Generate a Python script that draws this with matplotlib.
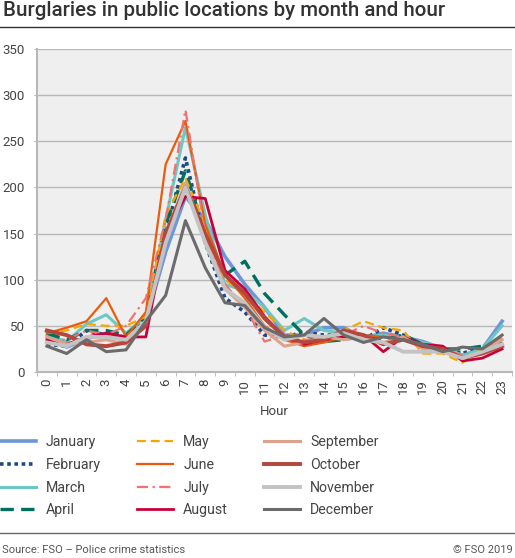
import matplotlib
matplotlib.use("Agg")
import matplotlib.pyplot as plt
import numpy as np

plt.rcParams['font.family'] = ['Roboto', 'DejaVu Sans']

hours = list(range(24))
months = ["January", "February", "March", "April", "May", "June",
          "July", "August", "September", "October", "November", "December"]

january = [44, 27, 36, 42, 33, 55, 130, 190, 165, 125, 95, 70, 40, 40, 48, 48, 37, 42, 38, 33, 25, 18, 25, 55]
february = [30, 28, 45, 40, 38, 60, 150, 232, 140, 80, 65, 40, 38, 43, 40, 40, 35, 48, 40, 30, 25, 20, 28, 32]
march = [40, 33, 52, 62, 42, 60, 165, 265, 170, 95, 88, 70, 45, 58, 45, 42, 38, 40, 38, 32, 27, 18, 25, 50]
april = [42, 35, 45, 45, 40, 60, 160, 218, 150, 105, 120, 85, 62, 40, 33, 35, 40, 35, 40, 30, 25, 25, 28, 28]
may = [42, 45, 52, 50, 50, 60, 170, 210, 160, 100, 85, 65, 45, 35, 32, 45, 55, 48, 45, 20, 20, 10, 25, 30]
june = [42, 48, 55, 80, 38, 65, 225, 272, 160, 105, 80, 50, 35, 28, 32, 38, 40, 38, 35, 30, 25, 15, 20, 30]
july = [35, 35, 45, 40, 50, 80, 165, 284, 150, 95, 70, 33, 40, 35, 35, 40, 50, 42, 38, 28, 25, 18, 22, 38]
august = [35, 30, 38, 42, 38, 38, 150, 190, 188, 110, 90, 60, 38, 30, 35, 38, 40, 22, 38, 30, 28, 12, 15, 25]
september = [38, 30, 32, 35, 30, 55, 150, 205, 145, 90, 70, 45, 28, 32, 38, 35, 38, 32, 38, 25, 22, 15, 22, 35]
october = [45, 40, 30, 28, 32, 50, 150, 200, 150, 105, 85, 58, 38, 32, 35, 45, 40, 30, 35, 28, 25, 15, 20, 28]
november = [32, 28, 38, 38, 35, 55, 140, 200, 140, 90, 75, 48, 35, 40, 38, 42, 35, 32, 22, 22, 22, 15, 22, 30]
december = [28, 20, 35, 22, 24, 55, 83, 164, 113, 75, 72, 48, 38, 40, 58, 40, 32, 38, 35, 30, 22, 27, 25, 40]

series = [january, february, march, april, may, june,
          july, august, september, october, november, december]
colors = ["#6f96d6", "#1d4a87", "#6cc8c4", "#00705e", "#f7a600", "#ea5b0c",
          "#f27171", "#c80039", "#dca28c", "#b5463c", "#c3c3c3", "#6b6b6b"]
styles = ["-", (0, (1, 1)), "-", (0, (4, 2.2)), (0, (4, 2.2)), "-",
          (0, (5, 2, 1, 2)), "-", "-", "-", "-", "-"]
widths = [2.6, 2.6, 2.2, 2.4, 1.6, 1.6, 1.6, 2.0, 2.2, 2.8, 2.8, 2.2]

fig = plt.figure(figsize=(5.15, 5.58), dpi=100)
ax = fig.add_axes([37 / 515, 1 - 372 / 558, 475 / 515, 323 / 558])
ax.set_facecolor("#efefef")

for name, vals, c, ls, lw in zip(months, series, colors, styles, widths):
    ax.plot(hours, vals, color=c, linestyle=ls, linewidth=lw, label=name)

ax.set_xlim(-0.5, 23.5)
ax.set_ylim(0, 350)
ax.set_yticks(range(0, 351, 50))
ax.grid(axis="y", color="#b8b8b8", linewidth=1)
ax.set_axisbelow(True)
ax.set_xticks(hours)
ax.set_xticklabels([str(h) for h in hours], rotation=90)
ax.set_xticks(np.arange(-0.5, 24, 1), minor=True)
ax.tick_params(axis="x", which="major", length=0, pad=5, labelsize=9.5, colors="#444444")
ax.tick_params(axis="x", which="minor", length=3, color="#b8b8b8")
ax.tick_params(axis="y", length=2.5, color="#b8b8b8", labelsize=9.5, labelcolor="#444444", pad=6)
for s in ["top", "right"]:
    ax.spines[s].set_visible(False)
ax.spines["left"].set_color("#b8b8b8")
ax.spines["left"].set_linewidth(1.5)
ax.spines["bottom"].set_color("#b8b8b8")
ax.spines["bottom"].set_linewidth(1.5)
ax.set_xlabel("Hour", fontsize=9.5, color="#444444", labelpad=8)

fig.text(3 / 515, 1 - 11 / 558, "Burglaries in public locations by month and hour",
         fontsize=14.8, fontweight="medium", color="#333333", va="center", ha="left")
fig.add_artist(plt.Line2D([0, 1], [1 - 27 / 558, 1 - 27 / 558], color="#333333", linewidth=1,
                          transform=fig.transFigure))

fig.legend(loc="upper left", bbox_to_anchor=(0, 1 - 435 / 558), ncol=3, frameon=False,
           fontsize=10.2, handlelength=2.55, handletextpad=0.7, columnspacing=2.55,
           labelspacing=0.62, borderpad=0, borderaxespad=0, labelcolor="#444444")

fig.add_artist(plt.Line2D([0, 1], [1 - 533 / 558, 1 - 533 / 558], color="#666666", linewidth=1,
                          transform=fig.transFigure))
fig.text(2 / 515, 1 - 550 / 558, "Source: FSO – Police crime statistics", fontsize=8,
         color="#555555", va="center", ha="left")
fig.text(513 / 515, 1 - 550 / 558, "© FSO 2019", fontsize=8,
         color="#555555", va="center", ha="right")

fig.savefig("out.png", dpi=100)
